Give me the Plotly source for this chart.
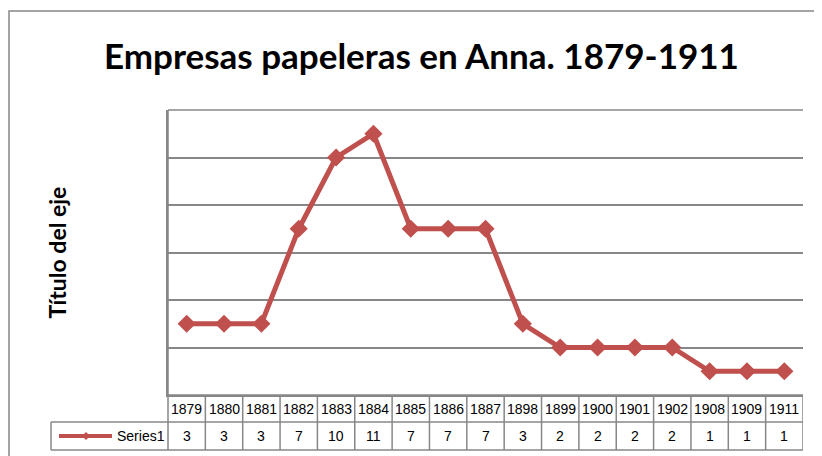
import plotly.graph_objects as go

# Browser body margin offsets the figure by 8px; size the figure to fit the window.
OFF = 8
W, H = 822 - OFF, 456 - OFF

years = ["1879", "1880", "1881", "1882", "1883", "1884", "1885", "1886", "1887",
         "1898", "1899", "1900", "1901", "1902", "1908", "1909", "1911"]
values = [3, 3, 3, 7, 10, 11, 7, 7, 7, 3, 2, 2, 2, 2, 1, 1, 1]
series_name = "Series1"
title_text = "Empresas papeleras en Anna. 1879-1911"
ytitle_text = "Título del eje"

RED = "#C0504D"
GRAY = "#878787"

def px(xp):
    return (xp - OFF) / W

def py(yp):
    return (H - (yp - OFF)) / H

plot_l, plot_r, plot_t, plot_b = 168, 803, 110, 395
row1_b, row2_b = 422, 450
leg_l = 51

fig = go.Figure()
fig.add_trace(go.Scatter(
    x=list(range(len(years))), y=values, mode="lines+markers", name=series_name,
    line=dict(color=RED, width=5),
    marker=dict(symbol="diamond", size=14, color=RED),
    showlegend=False, cliponaxis=False,
))

shapes = []
annotations = []

# outer chart border (left edge as close as the page allows)
shapes.append(dict(type="rect", xref="paper", yref="paper",
                   x0=px(9), x1=1.05, y0=-0.05, y1=py(11),
                   line=dict(color=GRAY, width=1.5)))

# top gridline of plot area
shapes.append(dict(type="line", xref="paper", yref="paper",
                   x0=px(plot_l), x1=px(plot_r), y0=py(plot_t), y1=py(plot_t),
                   line=dict(color=GRAY, width=1.5)))

# table horizontal lines
for yy, xl in [(plot_b, plot_l), (row1_b, leg_l), (row2_b, leg_l)]:
    shapes.append(dict(type="line", xref="paper", yref="paper",
                       x0=px(xl), x1=px(plot_r), y0=py(yy), y1=py(yy),
                       line=dict(color=GRAY, width=1.5)))
# legend cell left border
shapes.append(dict(type="line", xref="paper", yref="paper",
                   x0=px(leg_l), x1=px(leg_l), y0=py(row1_b), y1=py(row2_b),
                   line=dict(color=GRAY, width=1.5)))
# left axis line through table
shapes.append(dict(type="line", xref="paper", yref="paper",
                   x0=px(plot_l), x1=px(plot_l), y0=py(plot_t), y1=py(row2_b),
                   line=dict(color=GRAY, width=1.5)))
# category separators in table
for i in range(1, len(years) + 1):
    shapes.append(dict(type="line", xref="x", yref="paper",
                       x0=i - 0.5, x1=i - 0.5, y0=py(plot_b), y1=py(row2_b),
                       line=dict(color=GRAY, width=1.5)))

TFONT = dict(family="Liberation Sans, Arial", size=14, color="#000")
# table text
for i, (yr, v) in enumerate(zip(years, values)):
    annotations.append(dict(x=i, xref="x", y=py((plot_b + row1_b) / 2), yref="paper",
                            text=yr, showarrow=False, xanchor="center", yanchor="middle",
                            font=TFONT))
    annotations.append(dict(x=i, xref="x", y=py((row1_b + row2_b) / 2), yref="paper",
                            text=str(v), showarrow=False, xanchor="center", yanchor="middle",
                            font=TFONT))

# legend key in table
ly = (row1_b + row2_b) / 2
shapes.append(dict(type="line", xref="paper", yref="paper",
                   x0=px(59), x1=px(112), y0=py(ly), y1=py(ly),
                   line=dict(color=RED, width=4)))
d = 4
shapes.append(dict(type="path", xref="paper", yref="paper",
                   path=f"M {px(86-d)} {py(ly)} L {px(86)} {py(ly-d)} L {px(86+d)} {py(ly)} L {px(86)} {py(ly+d)} Z",
                   fillcolor=RED, line=dict(color=RED, width=0)))
annotations.append(dict(x=px(115), xref="paper", y=py(ly), yref="paper",
                        text=series_name, showarrow=False, xanchor="left", yanchor="middle",
                        font=TFONT))

# title
annotations.append(dict(x=px(421), xref="paper", y=py(55), yref="paper",
                        text=f"<b>{title_text}</b>", showarrow=False,
                        xanchor="center", yanchor="middle",
                        font=dict(family="Lato", size=35, color="#000")))
# y axis title
annotations.append(dict(x=px(56), xref="paper", y=py((plot_t + plot_b) / 2), yref="paper",
                        text=f"<b>{ytitle_text}</b>", showarrow=False, textangle=-90,
                        xanchor="center", yanchor="middle",
                        font=dict(family="Lato", size=23, color="#000")))

fig.update_layout(
    width=W, height=H,
    margin=dict(l=0, r=0, t=0, b=0),
    paper_bgcolor="white", plot_bgcolor="white",
    shapes=shapes, annotations=annotations,
    xaxis=dict(domain=[px(plot_l), px(plot_r)], range=[-0.5, len(years) - 0.5],
               showgrid=False, zeroline=False, showline=True, linecolor=GRAY, linewidth=1.5,
               showticklabels=False, ticks="", fixedrange=True),
    yaxis=dict(domain=[py(plot_b), py(plot_t)], range=[0, 12], dtick=2,
               showgrid=True, gridcolor=GRAY, gridwidth=1.5, zeroline=False,
               showline=True, linecolor=GRAY, linewidth=1.5,
               showticklabels=False, ticks="", fixedrange=True),
)

fig.write_html("out.html")
